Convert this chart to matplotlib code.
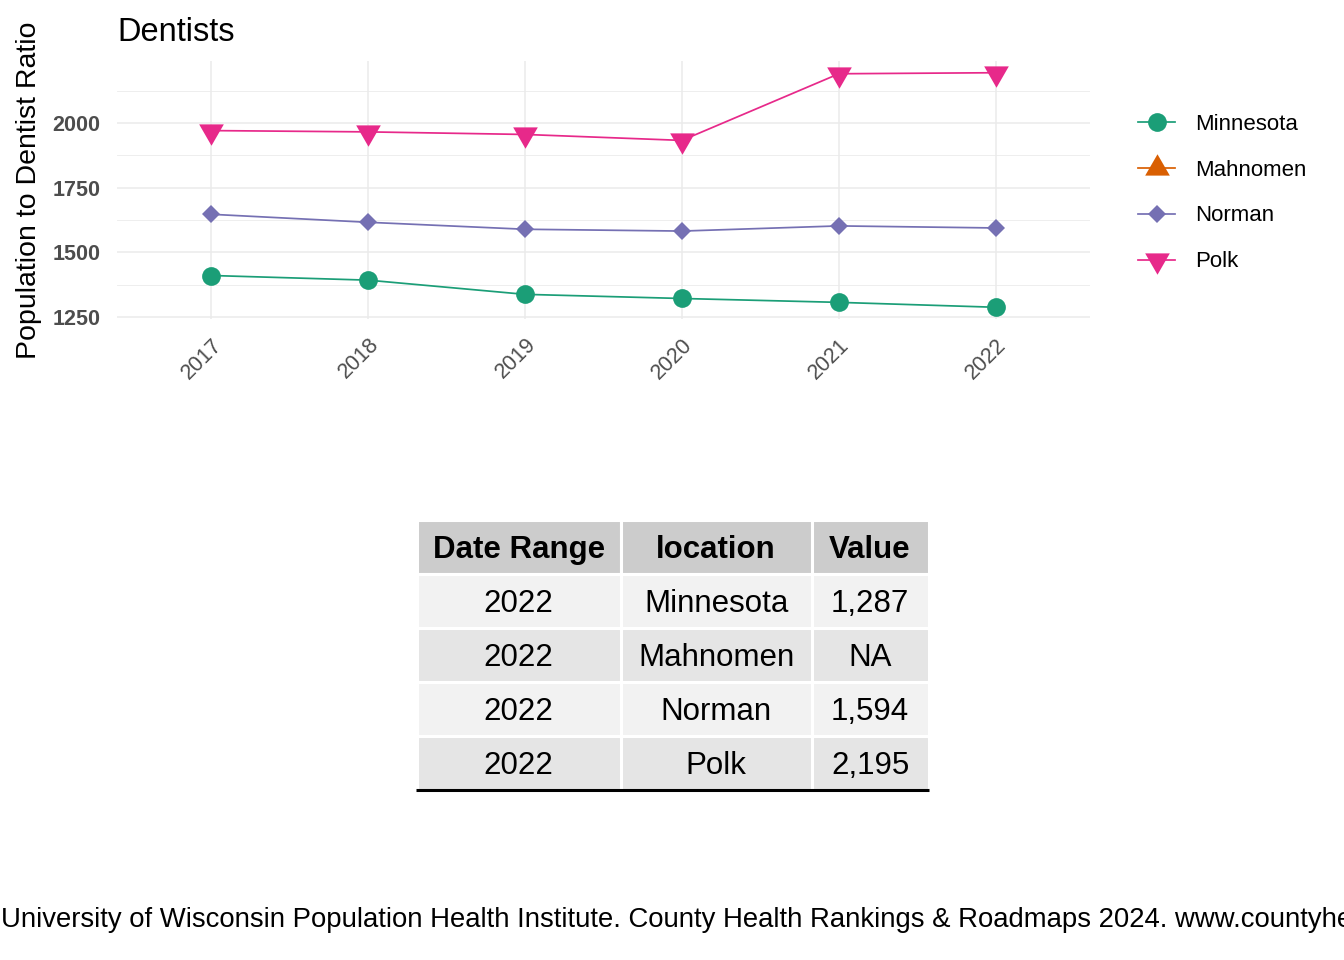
import numpy as np
import matplotlib
matplotlib.use('Agg')
import matplotlib.pyplot as plt
from matplotlib.ticker import MultipleLocator
from matplotlib.lines import Line2D

# ---------------- data ----------------
years = [2017, 2018, 2019, 2020, 2021, 2022]
locations = ['Minnesota', 'Mahnomen', 'Norman', 'Polk']
minnesota = [1410, 1392, 1337, 1321, 1306, 1287]
mahnomen = [np.nan, np.nan, np.nan, np.nan, np.nan, np.nan]
norman = [1647, 1616, 1589, 1582, 1602, 1594]
polk = [1971, 1966, 1956, 1933, 2191, 2195]
title = 'Dentists'
ylabel = 'Population to Dentist Ratio'
caption = ('University of Wisconsin Population Health Institute. County Health '
           'Rankings & Roadmaps 2024. www.countyhealthrankings.org')
table_cols = ['Date Range', 'location', 'Value']

colors = ['#1B9E77', '#D95F02', '#7570B3', '#E7298A']
series = [minnesota, mahnomen, norman, polk]

plt.rcParams['font.family'] = ['Liberation Sans', 'DejaVu Sans']

W, H = 1344, 960
fig = plt.figure(figsize=(13.44, 9.6), dpi=100)


def fx(px):
    return px / W


def fy(py):
    return 1 - py / H


# ---------------- line chart ----------------
ax = fig.add_axes([fx(117), fy(319), fx(1090) - fx(117), (319 - 61) / H])

tri_down = [(-1, 0.577), (1, 0.577), (0, -1.155)]
tri_up = [(-1, -0.577), (1, -0.577), (0, 1.155)]
markers = ['o', tri_up, 'D', tri_down]
msizes = [13.5, 20.5, 8.7, 20.5]

handles = []
for vals, col, mk, ms in zip(series, colors, markers, msizes):
    ln, = ax.plot(years, vals, color=col, lw=1.25, marker=mk, markersize=ms,
                  markeredgewidth=0, zorder=3)
    handles.append(ln)

ax.set_xlim(years[0] - 0.6, years[-1] + 0.6)
ax.margins(y=0.05)
ax.set_xticks(years)
ax.set_xticklabels([str(y) for y in years], rotation=45, ha='right',
                   va='top', rotation_mode='anchor')
ax.yaxis.set_major_locator(MultipleLocator(250))
ax.yaxis.set_minor_locator(MultipleLocator(125))
ax.grid(which='major', color='#EBEBEB', lw=1.1)
ax.grid(which='minor', axis='y', color='#EBEBEB', lw=0.6)
ax.set_axisbelow(True)
for s in ax.spines.values():
    s.set_visible(False)
ax.tick_params(axis='y', which='both', length=0, pad=12, labelsize=15.5,
               labelcolor='#4D4D4D')
ax.tick_params(axis='x', which='both', length=0, pad=11, labelsize=15.5,
               labelcolor='#4D4D4D')
for lbl in ax.get_yticklabels():
    lbl.set_fontweight('bold')

fig.text(fx(117), fy(41), title, fontsize=23.5, ha='left', va='baseline')
fig.text(fx(29), fy(190), ylabel, fontsize=20.5, rotation=90,
         ha='center', va='center')

fig.legend(handles, locations, loc='center left',
           bbox_to_anchor=(fx(1138), fy(193)), frameon=False, fontsize=16,
           handlelength=1.67, handletextpad=0.9, labelspacing=1.12,
           borderaxespad=0, borderpad=0)

# ---------------- table ----------------
tax = fig.add_axes([0, 0, 1, 1])
tax.axis('off')


def fmt(v):
    return 'NA' if np.isnan(v) else f'{v:,.0f}'


rows = [[str(years[-1]), loc, fmt(vals[-1])] for loc, vals in zip(locations, series)]
tbl = tax.table(cellText=rows, colLabels=table_cols, cellLoc='center',
                colLoc='center', colWidths=[203.5, 190, 116.5],
                bbox=[fx(416.5), fy(789.5), (928.5 - 416.5) / W, (789.5 - 519.5) / H])
tbl.auto_set_font_size(False)
for (r, c), cell in tbl.get_celld().items():
    cell.set_edgecolor('white')
    cell.set_linewidth(2.2)
    if r == 0:
        cell.set_facecolor('#CCCCCC')
        cell.get_text().set_fontweight('bold')
    else:
        cell.set_facecolor('#F2F2F2' if r % 2 == 1 else '#E5E5E5')
    cell.get_text().set_fontsize(22.5)
    cell.get_text().set_color('black')
    cell.get_text().set_verticalalignment('center_baseline')

tax.add_line(Line2D([fx(416), fx(928.5)], [fy(789.5), fy(789.5)],
                    transform=tax.transAxes, color='black', lw=2.2,
                    solid_capstyle='butt'))

fig.text(fx(1), fy(927), caption, fontsize=19.8, ha='left', va='baseline')

fig.savefig('out.png', dpi=100)
